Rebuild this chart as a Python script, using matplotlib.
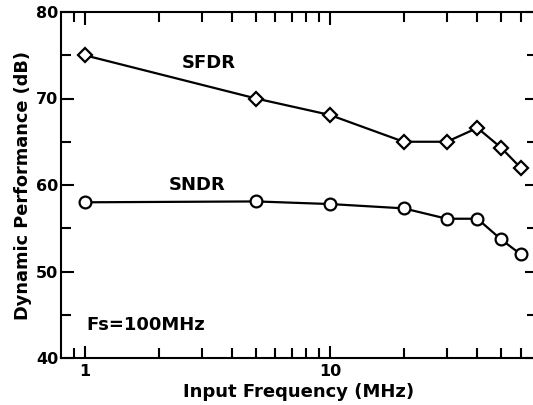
import matplotlib
import matplotlib.pyplot as plt
from matplotlib.ticker import FixedLocator, NullFormatter

matplotlib.use("Agg")

plt.rcParams["font.family"] = ["DejaVu Sans"]
plt.rcParams["font.weight"] = "bold"

freq = [1, 5, 10, 20, 30, 40, 50, 60]
sfdr = [75.0, 70.0, 68.1, 65.0, 65.0, 66.6, 64.3, 62.0]
sndr = [58.0, 58.1, 57.8, 57.3, 56.1, 56.1, 53.7, 52.0]

fig = plt.figure(figsize=(5.33, 4.05), dpi=100)
ax = fig.add_axes([61 / 533, 1 - 358 / 405, 476 / 533, 346 / 405])

ax.plot(freq, sfdr, color="black", lw=1.6, marker="D", ms=7,
        mfc="white", mec="black", mew=1.6)
ax.plot(freq, sndr, color="black", lw=1.6, marker="o", ms=8.5,
        mfc="white", mec="black", mew=1.6)

ax.set_xscale("log")
ax.set_xlim(0.8, 70)
ax.set_ylim(40, 80)

ax.xaxis.set_major_locator(FixedLocator([1, 10]))
ax.xaxis.set_minor_locator(FixedLocator([0.9, 2, 3, 4, 5, 6, 7, 8, 9,
                                         20, 30, 40, 50, 60]))
ax.xaxis.set_minor_formatter(NullFormatter())
ax.set_xticklabels(["1", "10"])
ax.set_yticks([40, 50, 60, 70, 80])
ax.set_yticks([45, 55, 65, 75], minor=True)

ax.tick_params(which="both", direction="in", top=True, right=True,
               width=1.5, labelsize=11.5)
ax.tick_params(axis="y", pad=2)
ax.tick_params(axis="x", pad=4)
ax.tick_params(which="major", length=9)
ax.tick_params(which="minor", length=7)
for s in ax.spines.values():
    s.set_linewidth(1.5)

ax.set_xlabel("Input Frequency (MHz)", fontsize=13, fontweight="bold", labelpad=3)
ax.set_ylabel("Dynamic Performance (dB)", fontsize=12.8, fontweight="bold", labelpad=3)

ax.text(3.2, 74.1, "SFDR", fontsize=13, fontweight="bold", ha="center", va="center")
ax.text(2.87, 60.0, "SNDR", fontsize=13, fontweight="bold", ha="center", va="center")
ax.text(1.02, 43.8, "Fs=100MHz", fontsize=13, fontweight="bold", ha="left", va="center")

fig.savefig("out.png", dpi=100)
